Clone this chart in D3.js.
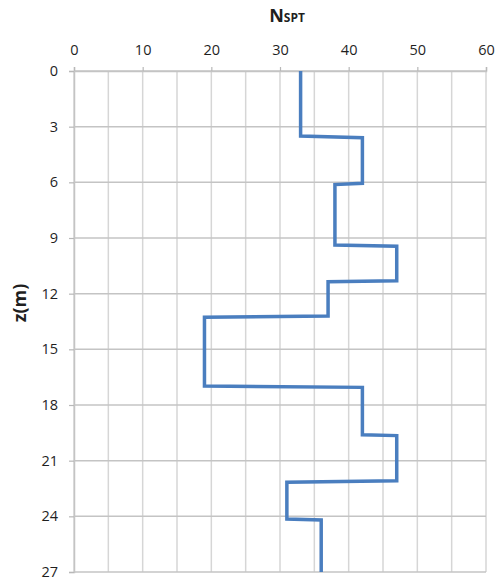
<!DOCTYPE html>
<html>
<head>
<meta charset="utf-8">
<script src="https://d3js.org/d3.v7.min.js"></script>
<style>
  body { margin: 0; background: #fff; }
  svg text { font-family: "Open Sans", "Liberation Sans", sans-serif; fill: #1f1f1f; }
</style>
</head>
<body>
<svg id="chart"></svg>
<script>
// SPT profile, read as a stepped polyline (depth in m, blow count)
const depth = [0, 3.5, 3.6, 6.05, 6.12, 9.38, 9.44, 11.3, 11.36, 13.2, 13.27, 16.98, 17.05, 19.6, 19.65, 22.08, 22.16, 24.15, 24.2, 27];
const nspt = [33, 33, 42, 42, 38, 38, 47, 47, 37, 37, 19, 19, 42, 42, 47, 47, 31, 31, 36, 36];

const xTicks = [0, 10, 20, 30, 40, 50, 60];
const xGrid = [0, 5, 10, 15, 20, 25, 30, 35, 40, 45, 50, 55, 60];
const yTicks = [0, 3, 6, 9, 12, 15, 18, 21, 24, 27];

var width = 495, height = 582;
var margin = { top: 71, right: 9, bottom: 10, left: 74 };

var svg = d3.select("#chart")
  .attr("width", width)
  .attr("height", height);

var xScale = d3.scaleLinear()
  .domain([0, 60])
  .range([margin.left, width - margin.right]);

var yScale = d3.scaleLinear()
  .domain([0, 27])
  .range([margin.top, height - margin.bottom]);

// grid
svg.append("g")
  .selectAll("line")
  .data(xGrid)
  .enter().append("line")
  .attr("x1", d => xScale(d))
  .attr("x2", d => xScale(d))
  .attr("y1", yScale(0))
  .attr("y2", yScale(27))
  .attr("stroke", "#d6d6d6")
  .attr("stroke-width", 1.5);

svg.append("g")
  .selectAll("line")
  .data(yTicks)
  .enter().append("line")
  .attr("x1", xScale(0))
  .attr("x2", xScale(60))
  .attr("y1", d => yScale(d))
  .attr("y2", d => yScale(d))
  .attr("stroke", "#c4c4c4")
  .attr("stroke-width", 1.5);

// axes
var xAxis = svg.append("g")
  .attr("transform", "translate(0," + yScale(0) + ")")
  .call(d3.axisTop(xScale).tickValues(xTicks).tickSize(4).tickPadding(12));

var yAxis = svg.append("g")
  .attr("transform", "translate(" + xScale(0) + ",0)")
  .call(d3.axisLeft(yScale).tickValues(yTicks).tickSize(5).tickPadding(11));

[xAxis, yAxis].forEach(function(ax) {
  ax.select(".domain").attr("stroke", "#c4c4c4").attr("stroke-width", 1.5);
  ax.selectAll(".tick line").attr("stroke", "#b8b8b8").attr("stroke-width", 1.2);
  ax.selectAll(".tick text")
    .style("font-size", "14.5px")
    .style("font-family", "'Open Sans', sans-serif")
    .attr("fill", "#1f1f1f");
});

// profile line
var line = d3.line()
  .x(function(d) { return xScale(d[1]); })
  .y(function(d) { return yScale(d[0]); });

svg.append("path")
  .datum(depth.map(function(z, i) { return [z, nspt[i]]; }))
  .attr("fill", "none")
  .attr("stroke", "#4a7ebf")
  .attr("stroke-width", 3.5)
  .attr("stroke-linejoin", "miter")
  .attr("d", line);

// titles
var title = svg.append("text")
  .attr("x", 287)
  .attr("y", 22)
  .attr("text-anchor", "middle")
  .style("font-weight", "bold");
title.append("tspan").style("font-size", "18px").text("N");
title.append("tspan").style("font-size", "12px").text("SPT");

svg.append("text")
  .attr("transform", "translate(26," + 303 + ") rotate(-90)")
  .attr("text-anchor", "middle")
  .style("font-size", "18px")
  .style("font-weight", "bold")
  .text("z(m)");
</script>
</body>
</html>
